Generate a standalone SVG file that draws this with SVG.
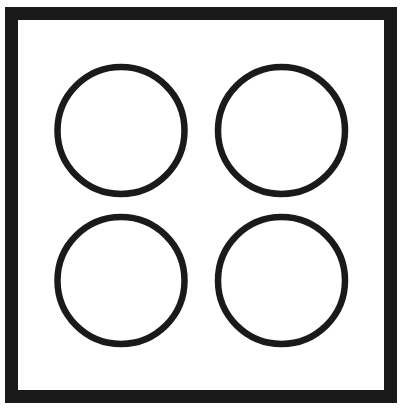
<svg xmlns="http://www.w3.org/2000/svg" width="401" height="409" viewBox="0 0 401 409">
<style>
.frame{fill:#fff;stroke:#1a1a1a;stroke-width:13}
.ring{fill:none;stroke:#1a1a1a;stroke-width:6.5}
</style>
<rect width="401" height="409" fill="#fff"/>
<g id="frame"><rect class="frame" x="11.5" y="13.5" width="379" height="383"/></g>
<g id="circle-tl"><circle class="ring" cx="121" cy="130.5" r="63.5"/></g>
<g id="circle-tr"><circle class="ring" cx="281.5" cy="130.5" r="63.5"/></g>
<g id="circle-bl"><circle class="ring" cx="121" cy="280.5" r="63.5"/></g>
<g id="circle-br"><circle class="ring" cx="281.5" cy="280.5" r="63.5"/></g>
<g id="connectors"/>
</svg>
